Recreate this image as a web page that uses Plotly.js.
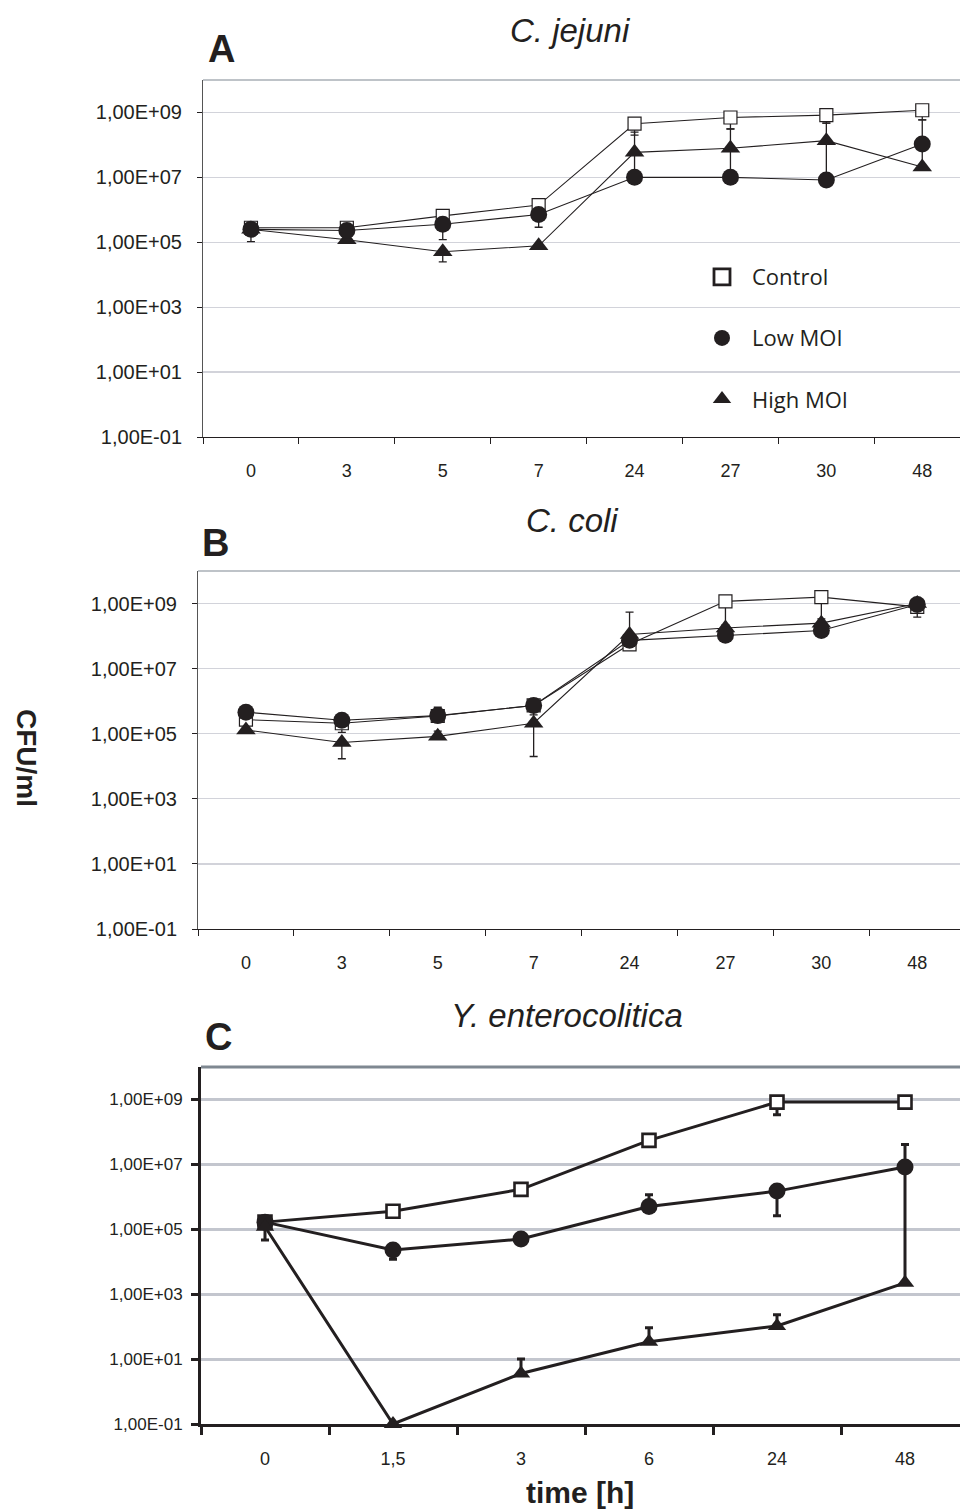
<!DOCTYPE html>
<html>
<head>
<meta charset="utf-8">
<script src="https://cdn.plot.ly/plotly-3.0.1.min.js"></script>
<style>html,body{margin:0;padding:0;background:#fff;}#chart{width:960px;height:1512px;}</style>
</head>
<body>
<div id="chart"></div>
<script>
// ---------- DATA ----------
const seriesNames = ["Control", "Low MOI", "High MOI"];

// Panel A: C. jejuni
const timesA = ["0", "3", "5", "7", "24", "27", "30", "48"];
const controlA = [2.8e5, 2.8e5, 6.5e5, 1.4e6, 4.5e8, 7.0e8, 8.3e8, 1.17e9];
const lowA     = [2.5e5, 2.3e5, 3.6e5, 7.2e5, 1.0e7, 1.0e7, 8.3e6, 1.07e8];
const highA    = [2.5e5, 1.2e5, 5.1e4, 7.8e4, 5.9e7, 7.9e7, 1.35e8, 2.1e7];
const controlA_plus  = [0, 0, 1.6e5, 5.0e5, 0, 0, 0, 0];
const controlA_minus = [0, 0, 0, 0, 2.5e8, 3.9e8, 3.6e8, 5.8e8];
const lowA_plus      = [0, 0, 0, 0, 0, 0, 0, 4.8e8];
const lowA_minus     = [1.45e5, 0, 2.4e5, 4.3e5, 0, 0, 0, 8.6e7];
const highA_plus     = [0, 0, 0, 0, 1.9e8, 2.3e8, 3.35e8, 0];
const highA_minus    = [0, 0, 2.6e4, 0, 4.9e7, 6.9e7, 1.26e8, 0];

// Panel B: C. coli
const timesB = ["0", "3", "5", "7", "24", "27", "30", "48"];
const controlB = [2.7e5, 2.1e5, 3.5e5, 7.4e5, 5.6e7, 1.17e9, 1.58e9, 7.9e8];
const lowB     = [4.6e5, 2.6e5, 3.6e5, 7.4e5, 7.4e7, 1.07e8, 1.48e8, 9.3e8];
const highB    = [1.3e5, 5.4e4, 8.3e4, 2.1e5, 1.12e8, 1.78e8, 2.5e8, 1.0e9];
const controlB_plus  = [0, 0, 0, 0, 0, 0, 0, 0];
const controlB_minus = [0, 1.0e5, 0, 0, 0, 9.5e8, 1.24e9, 4.1e8];
const lowB_plus      = [0, 0, 2.9e5, 0, 0, 0, 0, 0];
const lowB_minus     = [0, 0, 0, 3.6e5, 0, 0, 0, 0];
const highB_plus     = [0, 0, 3.7e4, 0, 4.3e8, 0, 0, 0];
const highB_minus    = [0, 3.7e4, 0, 1.9e5, 0, 0, 0, 0];

// Panel C: Y. enterocolitica
const timesC = ["0", "1,5", "3", "6", "24", "48"];
const controlC = [1.66e5, 3.6e5, 1.7e6, 5.5e7, 8.3e8, 8.3e8];
const lowC     = [1.66e5, 2.3e4, 5.0e4, 5.0e5, 1.5e6, 8.3e6];
const highC    = [1.2e5, 0.1, 3.6, 34, 105, 2240];
const controlC_plus  = [0, 0, 0, 0, 0, 0];
const controlC_minus = [0, 0, 0, 0, 4.9e8, 0];
const lowC_plus      = [0, 0, 0, 6.5e5, 0, 3.27e7];
const lowC_minus     = [0, 1.1e4, 0, 0, 1.24e6, 8.2978e6];
const highC_plus     = [0, 0, 6.4, 59, 129, 0];
const highC_minus    = [7.3e4, 0, 0, 0, 0, 0];

// Y tick labels
const yTickVals = [0.1, 10, 1e3, 1e5, 1e7, 1e9];
const yTickText = ["1,00E-01", "1,00E+01", "1,00E+03", "1,00E+05", "1,00E+07", "1,00E+09"];

// ---------- LAYOUT HELPERS ----------
const W = 960, H = 1512;
const yd = (top, bot) => [1 - bot / H, 1 - top / H];
const ink = "#231f20";
const FONT = "Liberation Sans, Arial, sans-serif";

function err(plus, minus, thick, width) {
  return {type: "data", symmetric: false, array: plus, arrayminus: minus,
          color: ink, thickness: thick, width: width};
}

function thinTrace(name, x, y, plus, minus, xa, ya) {
  const sym = {"Control": "square", "Low MOI": "circle", "High MOI": "triangle-up"}[name];
  const marker = name === "Control"
    ? {symbol: sym, size: 13, color: "#ffffff", line: {color: ink, width: 1.2}}
    : {symbol: sym, size: 17, color: ink, line: {width: 0}};
  return {type: "scatter", mode: "lines+markers", name: name, x: x, y: y,
          xaxis: xa, yaxis: ya, showlegend: false, cliponaxis: false,
          line: {color: ink, width: 1.1}, marker: marker,
          error_y: err(plus, minus, 1.3, 4)};
}

function thickTrace(name, x, y, plus, minus, xa, ya) {
  const sym = {"Control": "square", "Low MOI": "circle", "High MOI": "triangle-up"}[name];
  const marker = name === "Control"
    ? {symbol: sym, size: 13, color: "#ffffff", line: {color: ink, width: 2.6}}
    : name === "Low MOI"
      ? {symbol: sym, size: 17, color: ink, line: {width: 0}}
      : {symbol: sym, size: 16, color: ink, line: {width: 0}};
  return {type: "scatter", mode: "lines+markers", name: name, x: x, y: y,
          xaxis: xa, yaxis: ya, showlegend: false, cliponaxis: false,
          line: {color: ink, width: 3}, marker: marker,
          error_y: err(plus, minus, 3, 4)};
}

const traces = [
  thinTrace("Control", timesA, controlA, controlA_plus, controlA_minus, "x", "y"),
  thinTrace("High MOI", timesA, highA, highA_plus, highA_minus, "x", "y"),
  thinTrace("Low MOI", timesA, lowA, lowA_plus, lowA_minus, "x", "y"),
  thinTrace("Control", timesB, controlB, controlB_plus, controlB_minus, "x2", "y2"),
  thinTrace("High MOI", timesB, highB, highB_plus, highB_minus, "x2", "y2"),
  thinTrace("Low MOI", timesB, lowB, lowB_plus, lowB_minus, "x2", "y2"),
  thickTrace("Control", timesC, controlC, controlC_plus, controlC_minus, "x3", "y3"),
  thickTrace("Low MOI", timesC, lowC, lowC_plus, lowC_minus, "x3", "y3"),
  thickTrace("High MOI", timesC, highC, highC_plus, highC_minus, "x3", "y3"),
];

// legend-only entries (panel A legend)
const legSym = [
  {symbol: "square", size: 20, color: "#ffffff", line: {color: ink, width: 2.8}},
  {symbol: "circle", size: 22, color: ink, line: {width: 0}},
  {symbol: "triangle-up", size: 22, color: ink, line: {width: 0}},
];
seriesNames.forEach((n, i) => {
  traces.push({type: "scatter", mode: "markers", name: n, x: [null], y: [null],
               xaxis: "x", yaxis: "y", showlegend: true, legendgroup: "g" + i,
               marker: legSym[i], hoverinfo: "skip"});
});

function xAxis(left, cats, anchor, thick) {
  return {domain: [left / W, 1], anchor: anchor, type: "category",
          categoryarray: cats, categoryorder: "array",
          range: [-0.5, -0.5 + (W - left) / ((thick ? 128 : 95.9))],
          tickson: "boundaries", ticks: "outside",
          ticklen: thick ? 8 : 6, tickwidth: thick ? 3 : 1, tickcolor: ink,
          showline: true, linecolor: ink, linewidth: thick ? 3 : 1,
          showgrid: false, zeroline: false, ticklabelstandoff: thick ? 16 : 17,
          tickfont: {family: FONT, size: 18, color: ink}, fixedrange: true};
}
function yAxis(top, bot, anchor, thick) {
  return {domain: yd(top, bot), anchor: anchor, type: "log", range: [-1, 10],
          tickmode: "array", tickvals: yTickVals, ticktext: yTickText,
          ticks: "outside", ticklen: thick ? 7 : 5, tickwidth: thick ? 3 : 1,
          tickcolor: ink, showline: true, linecolor: thick ? ink : "#555",
          linewidth: thick ? 3 : 1, showgrid: true,
          gridcolor: thick ? "#c3c6ce" : "#d2d3da", gridwidth: thick ? 3 : 1.3,
          zeroline: false, ticklabelstandoff: thick ? 5 : 11,
          tickfont: {family: FONT, size: thick ? 17 : 20, color: ink},
          fixedrange: true};
}

const ann = (text, px, py, size, opts) => Object.assign({
  text: text, xref: "paper", yref: "paper", x: px / W, y: 1 - py / H,
  xanchor: "center", yanchor: "middle", showarrow: false,
  font: {family: FONT, size: size, color: ink}}, opts || {});

const layout = {
  width: W, height: H, margin: {l: 0, r: 0, t: 0, b: 0},
  paper_bgcolor: "#ffffff", plot_bgcolor: "#ffffff",
  xaxis: xAxis(203, timesA, "y", false),
  yaxis: yAxis(80, 437, "x", false),
  xaxis2: xAxis(198, timesB, "y2", false),
  yaxis2: yAxis(571, 929, "x2", false),
  xaxis3: xAxis(201, timesC, "y3", true),
  yaxis3: yAxis(1067, 1424, "x3", true),
  showlegend: true,
  legend: {x: 692 / W, y: 1 - 256 / H, xanchor: "left", yanchor: "top",
           font: {family: "Open Sans, sans-serif", size: 22, color: ink},
           bgcolor: "rgba(0,0,0,0)", itemwidth: 50, tracegroupgap: 29.5,
           traceorder: "grouped", itemsizing: "trace"},
  shapes: [
    {type: "line", xref: "paper", yref: "paper", x0: 203 / W, x1: 1, y0: 1 - 80 / H, y1: 1 - 80 / H,
     line: {color: "#7f8891", width: 1.2}},
    {type: "line", xref: "paper", yref: "paper", x0: 198 / W, x1: 1, y0: 1 - 571 / H, y1: 1 - 571 / H,
     line: {color: "#7f8891", width: 1.2}},
    {type: "line", xref: "paper", yref: "paper", x0: 201 / W, x1: 1, y0: 1 - 1067 / H, y1: 1 - 1067 / H,
     line: {color: "#7f8891", width: 3}},
  ],
  annotations: [
    ann("<i>C. jejuni</i>", 570, 30, 33),
    ann("<b>A</b>", 221, 49, 38),
    ann("<i>C. coli</i>", 572, 520, 33),
    ann("<b>B</b>", 215, 543, 38),
    ann("<i>Y. enterocolitica</i>", 567, 1015, 33),
    ann("<b>C</b>", 218, 1037, 38),
    ann("<b>CFU/ml</b>", 26, 758, 28, {textangle: 90}),
    ann("<b>time [h]</b>", 580, 1492, 30),
  ],
};

Plotly.newPlot("chart", traces, layout, {staticPlot: true, displayModeBar: false});
</script>
</body>
</html>
